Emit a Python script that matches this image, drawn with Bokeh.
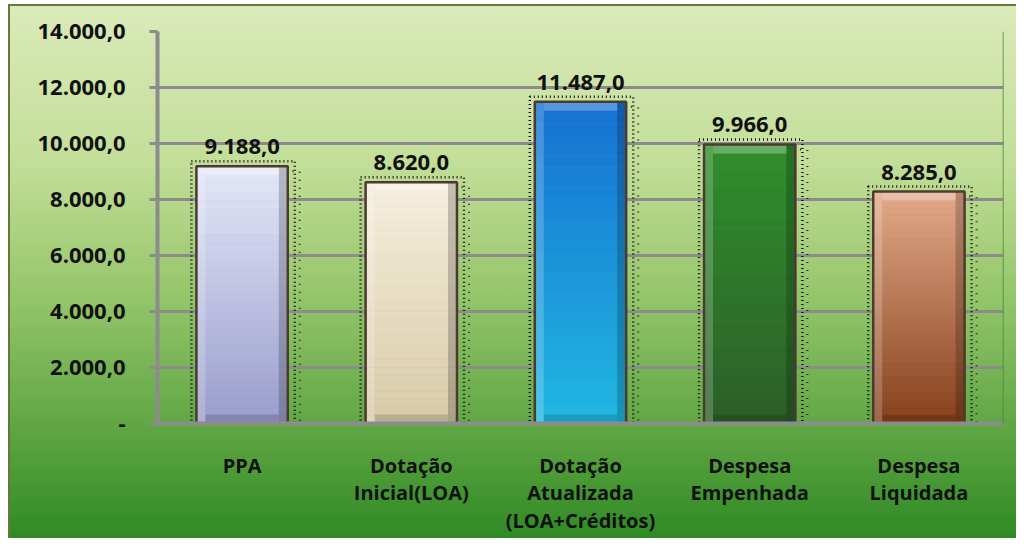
from bokeh.plotting import figure
from bokeh.models import FixedTicker, ColumnDataSource, LabelSet, Span
from bokeh.embed import file_html
from bokeh.resources import INLINE
from bokeh.core.properties import value

categories = ["PPA", "Dotação\nInicial(LOA)", "Dotação\nAtualizada\n(LOA+Créditos)",
              "Despesa\nEmpenhada", "Despesa\nLiquidada"]
values = [9188.0, 8620.0, 11487.0, 9966.0, 8285.0]
value_labels = ["9.188,0", "8.620,0", "11.487,0", "9.966,0", "8.285,0"]
y_ticks = [0, 2000, 4000, 6000, 8000, 10000, 12000, 14000]
y_tick_labels = ["-", "2.000,0", "4.000,0", "6.000,0", "8.000,0", "10.000,0", "12.000,0", "14.000,0"]

top_colors = ["#e4e8f8", "#f6efde", "#1670d2", "#2f8f2c", "#e3aa8a"]
bottom_colors = ["#9a9ccc", "#d8caa8", "#20b8e2", "#2c5e28", "#86401c"]

FONT = "Open Sans"
W, H = 1016, 538

p = figure(width=W, height=H, output_backend="svg", toolbar_location=None,
           x_range=(-0.5, 4.5), y_range=(0, 14000),
           min_border_left=157, min_border_right=W - 1003, min_border_top=31,
           min_border_bottom=H - 423)
p.border_fill_color = None
p.background_fill_color = None
p.outline_line_color = None
p.styles = {
    "background-color": "white",
    "background-image": ("linear-gradient(#66773a, #66773a), linear-gradient(#66773a, #66773a), "
                         "linear-gradient(180deg, #dbeab9 0%, #c2de98 30%, #94c56a 55%, "
                         "#5ea543 80%, #2f8a24 100%)"),
    "background-position": "8px 4px, 8px 4px, 8px 4px",
    "background-size": "2px 100%, 100% 2px, calc(100% - 8px) calc(100% - 4px)",
    "background-repeat": "no-repeat, no-repeat, no-repeat",
}

# grid
p.xgrid.grid_line_color = None
p.ygrid.ticker = FixedTicker(ticks=y_ticks)
p.ygrid.grid_line_color = "#8c8c8c"
p.ygrid.grid_line_width = 3

# y axis
p.yaxis.ticker = FixedTicker(ticks=y_ticks)
p.yaxis.major_label_overrides = {t: l for t, l in zip(y_ticks, y_tick_labels)}
p.yaxis.axis_line_color = "#8c8c8c"
p.yaxis.axis_line_width = 4
p.yaxis.major_tick_line_color = "#8c8c8c"
p.yaxis.major_tick_line_width = 3
p.yaxis.major_tick_out = 8
p.yaxis.major_tick_in = 0
p.yaxis.minor_tick_line_color = None
p.yaxis.major_label_standoff = 24
p.yaxis.major_label_text_font = FONT
p.yaxis.major_label_text_font_style = "bold"
p.yaxis.major_label_text_font_size = "22px"
p.yaxis.major_label_text_color = "#111111"

# x axis
p.xaxis.ticker = FixedTicker(ticks=list(range(len(categories))))
p.xaxis.major_label_overrides = {i: c for i, c in enumerate(categories)}
p.xaxis.axis_line_color = "#8c8c8c"
p.xaxis.axis_line_width = 4
p.xaxis.major_tick_line_color = None
p.xaxis.minor_tick_line_color = None
p.xaxis.major_label_standoff = 22
p.xaxis.major_label_text_font = FONT
p.xaxis.major_label_text_font_style = "bold"
p.xaxis.major_label_text_font_size = "20px"
p.xaxis.major_label_text_color = "#111111"
p.xaxis.major_label_text_line_height = 1.03

# right wall edge
p.add_layout(Span(location=4.5, dimension="height", line_color="#3c8a30", line_width=1.5))


def hex2rgb(h):
    h = h.lstrip("#")
    return [int(h[i:i + 2], 16) for i in (0, 2, 4)]


def mix(a, b, t):
    ra, rb = hex2rgb(a), hex2rgb(b)
    return "#%02x%02x%02x" % tuple(int(round(ra[i] + (rb[i] - ra[i]) * t)) for i in range(3))


xs = list(range(len(values)))
bw = 0.54
px_x = 1.0 / 169.0          # data units per pixel, x
px_y = 14000 / 392.0        # data units per pixel, y

# dotted shadow outlines
p.vbar(x=[x + 1 * px_x for x in xs], top=[v + 5 * px_y for v in values], width=bw + 12 * px_x,
       bottom=0, fill_color=None, line_color="#111111", line_width=2.5, line_dash="1 3")
p.vbar(x=[x + 6 * px_x for x in xs], top=[v - 5 * px_y for v in values], width=bw + 12 * px_x,
       bottom=0, fill_color=None, line_color="#222222", line_width=2, line_dash="1 7")

# gradient bars
n = 30
for k in range(n):
    t = (k + 0.5) / n
    bots = [v * (1 - (k + 1) / n) for v in values]
    tops = [v * (1 - k / n) for v in values]
    cols = [mix(tc, bc, t) for tc, bc in zip(top_colors, bottom_colors)]
    p.vbar(x=xs, bottom=bots, top=tops, width=bw, fill_color=cols, line_color=cols, line_width=0.6)

# bevel: left light, right dark, top light, bottom dark
bev = 9
p.vbar(x=[x - bw / 2 + bev * px_x / 2 for x in xs], bottom=0, top=values, width=bev * px_x,
       fill_color="white", fill_alpha=0.2, line_color=None)
p.vbar(x=[x + bw / 2 - bev * px_x / 2 for x in xs], bottom=0, top=values, width=bev * px_x,
       fill_color="black", fill_alpha=0.2, line_color=None)
p.vbar(x=xs, bottom=[v - bev * px_y for v in values], top=values, width=bw - 2 * bev * px_x,
       fill_color="white", fill_alpha=0.28, line_color=None)
p.vbar(x=xs, bottom=0, top=bev * px_y, width=bw - 2 * bev * px_x,
       fill_color="black", fill_alpha=0.14, line_color=None)

# dark edge
p.vbar(x=xs, bottom=0, top=values, width=bw, fill_color=None, line_color="#4a3a30", line_width=2.5)

src = ColumnDataSource(dict(x=xs, y=values, t=value_labels))
p.add_layout(LabelSet(x="x", y="y", text="t", source=src, text_align="center",
                      text_baseline="bottom", y_offset=12, text_font=value(FONT),
                      text_font_style="bold", text_font_size="22px", text_color="#111111"))

open("out.html", "w").write(file_html(p, INLINE))
